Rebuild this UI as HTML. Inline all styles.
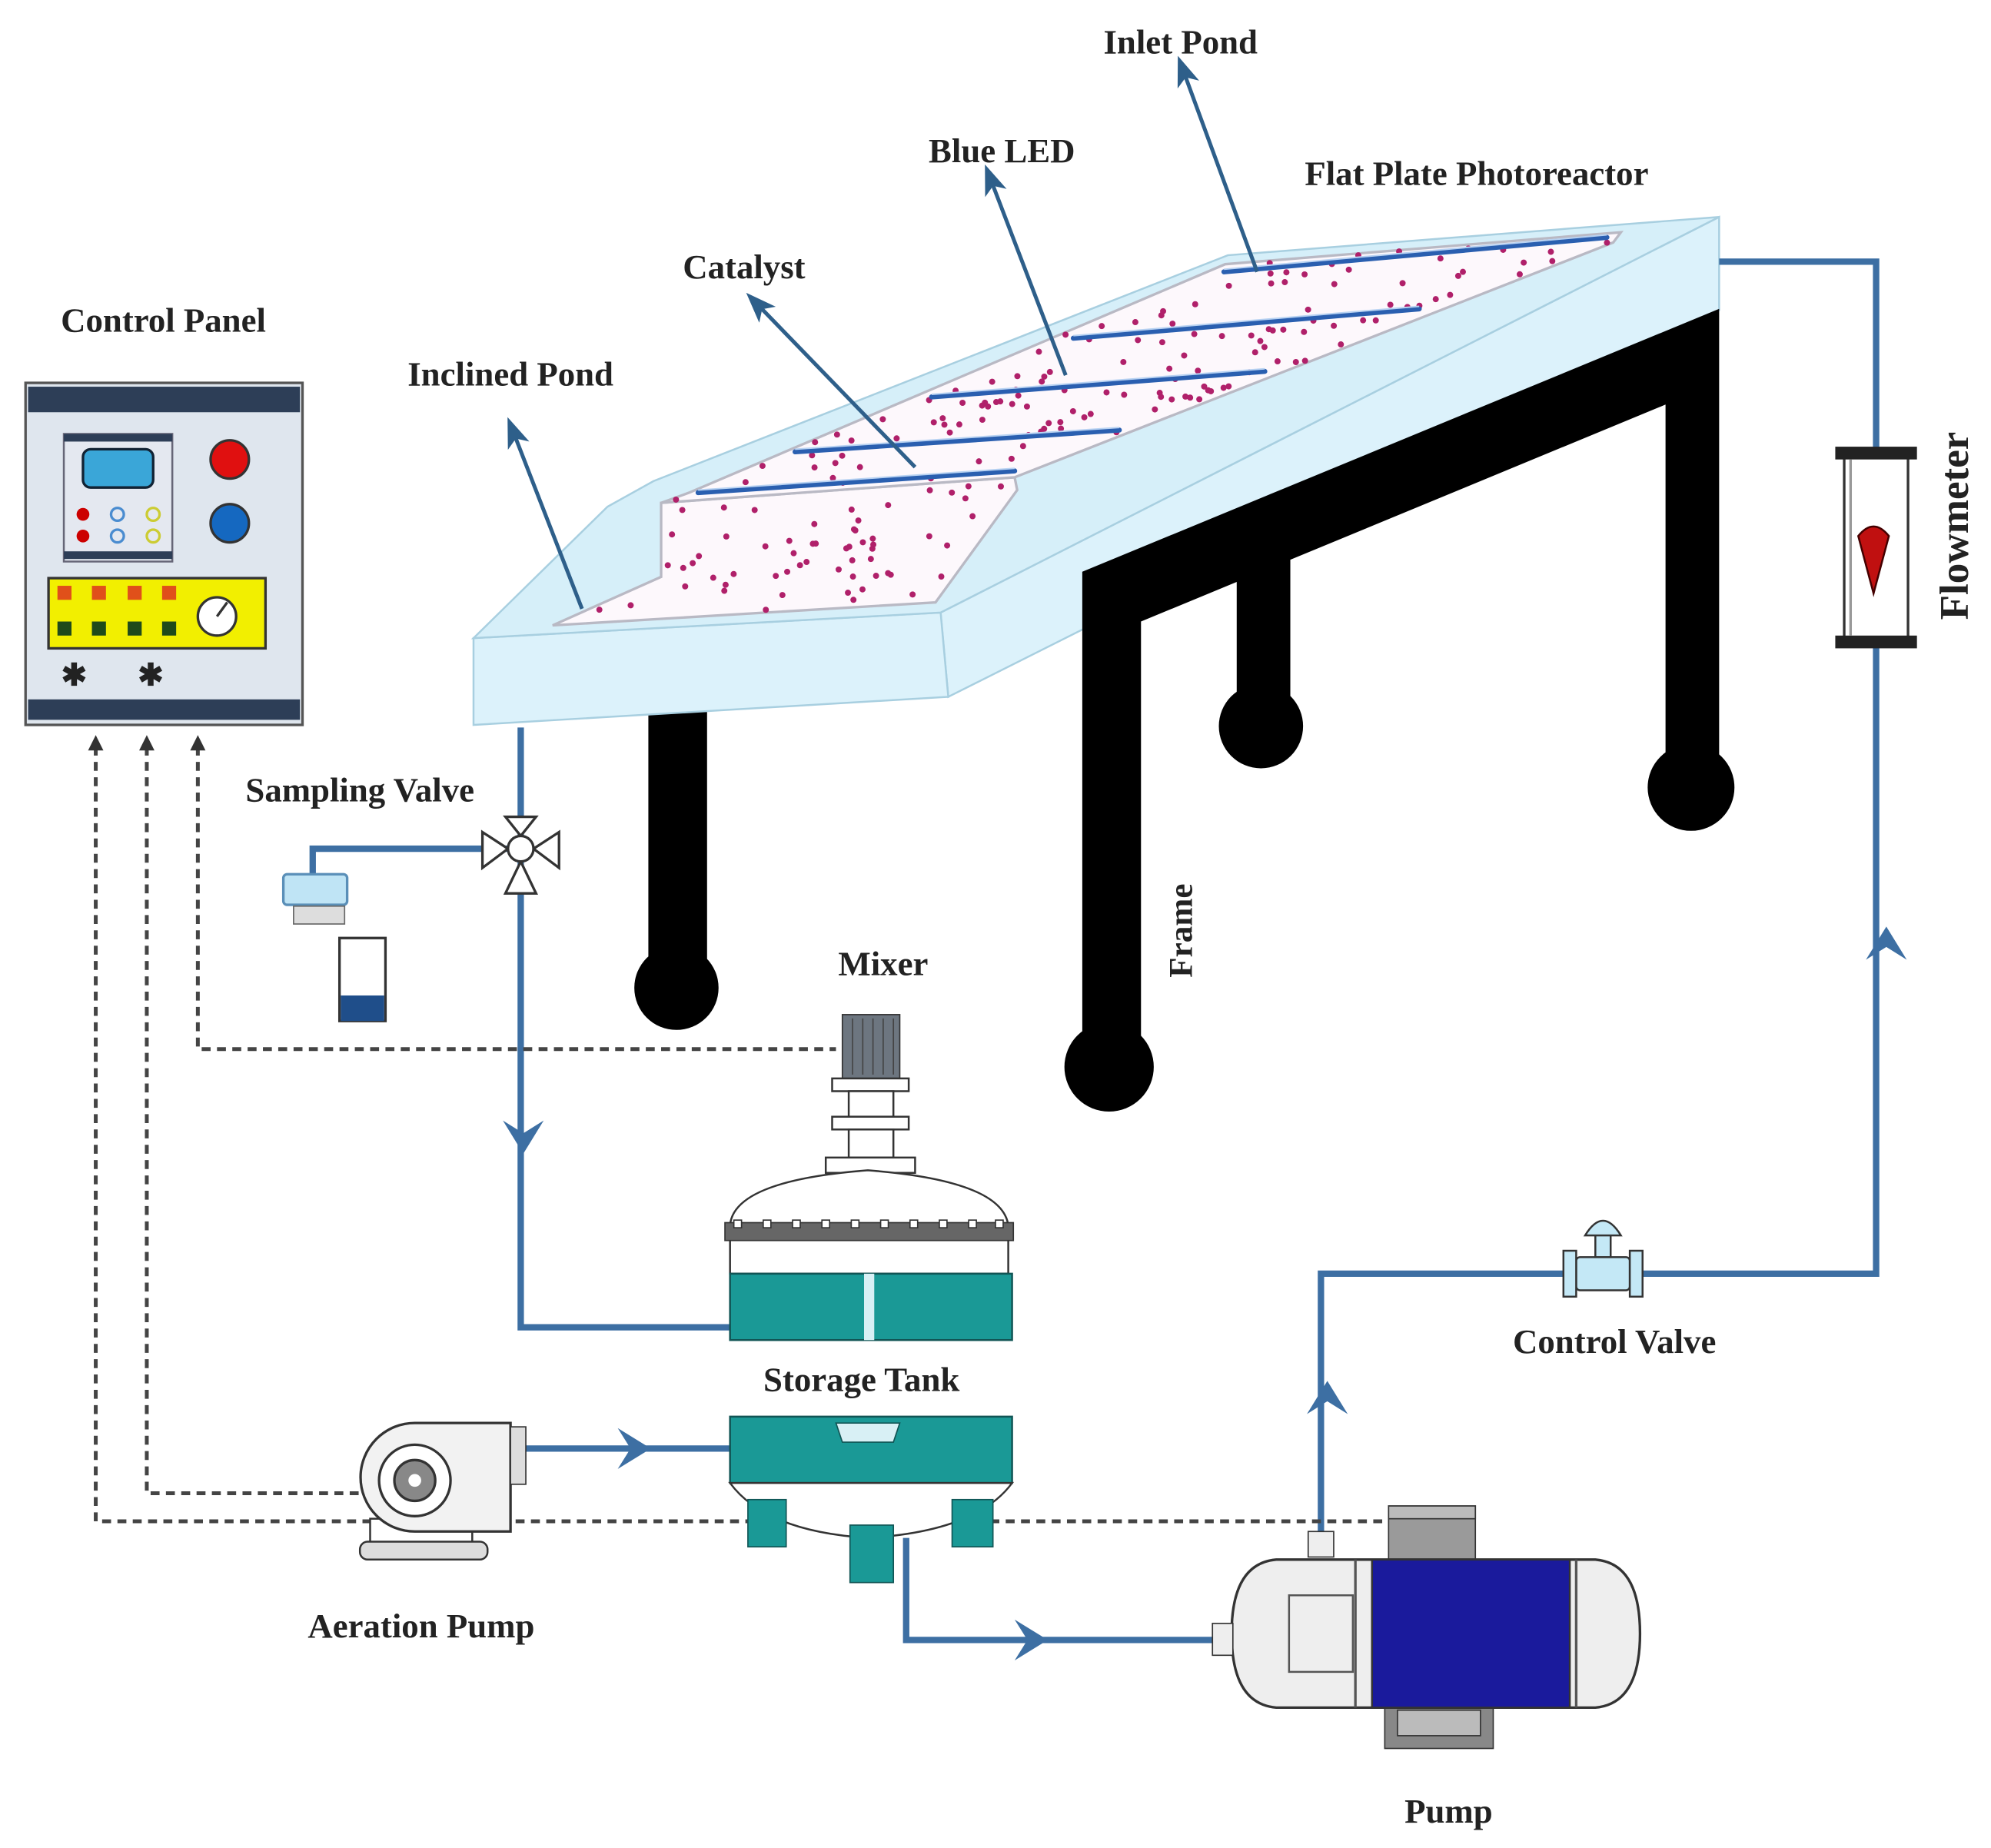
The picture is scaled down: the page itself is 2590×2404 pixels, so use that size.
<!DOCTYPE html>
<html><head><meta charset="utf-8"><style>
html,body{margin:0;padding:0;background:#fff}
svg{display:block}
text{font-family:"Liberation Serif",serif;font-weight:bold;fill:#222}
</style></head><body>
<svg id="s" width="2590" height="2404" viewBox="0 0 1560 1448" xmlns="http://www.w3.org/2000/svg">
<defs>
<marker id="ah" markerWidth="8" markerHeight="8" refX="4" refY="4" orient="auto"><path d="M0,1 L8,4 L0,7 L2,4 z" fill="#2e5f8a"/></marker>
</defs>
<rect width="1560" height="1448" fill="#fff"/>

<!-- black frame back parts -->
<rect x="969" y="400" width="42" height="150" fill="#000"/>
<circle cx="988" cy="569" r="33" fill="#000"/>
<rect x="508" y="555" width="46" height="200" fill="#000"/>
<circle cx="530" cy="774" r="33" fill="#000"/>

<!-- reactor -->
<polygon points="737,480 1347,170 1347,243 743,546" fill="#dcf2fb" stroke="#a8cfe0" stroke-width="1.5"/>
<polygon points="371,500 737,480 743,546 371,568" fill="#dcf2fb" stroke="#a8cfe0" stroke-width="1.5"/>
<polygon points="371,500 476,397 512,377 962,200 1269,176 1347,170 737,480" fill="#d6eff9" stroke="#a8cfe0" stroke-width="1.5"/>
<polygon id="p1" points="433,490 518,452 518,394 795,374 797,384 733,472" fill="#fdf8fc" stroke="#b9b9c4" stroke-width="2"/>
<polygon id="p2" points="518,394 540,386 960,207 1270,182 1264,190 795,374" fill="#fdf8fc" stroke="#b9b9c4" stroke-width="2"/>
<g id="dots"></g>
<g stroke="#2a5fb0" stroke-width="4" stroke-linecap="round">
<line x1="547" y1="386" x2="795" y2="369"/><line x1="623" y1="354" x2="877" y2="337"/>
<line x1="730" y1="311" x2="991" y2="291"/><line x1="841" y1="265" x2="1112" y2="242"/>
<line x1="959" y1="213" x2="1259" y2="186"/></g>
<g stroke="#b8d2f2" stroke-width="1.2">
<line x1="547" y1="384" x2="795" y2="367"/><line x1="623" y1="352" x2="877" y2="335"/>
<line x1="730" y1="309" x2="991" y2="289"/><line x1="841" y1="263" x2="1112" y2="240"/>
<line x1="959" y1="211" x2="1259" y2="184"/></g>

<!-- black frame front -->
<polygon points="848,448 1347,242 1347,595 1305,595 1305,317 894,487 894,815 848,815" fill="#000"/>
<circle cx="1325" cy="617" r="34" fill="#000"/>
<circle cx="869" cy="836" r="35" fill="#000"/>
<text font-size="26" transform="translate(934,766) rotate(-90)">Frame</text>

<!-- label arrows -->
<g stroke="#2e5f8a" stroke-width="3" marker-end="url(#ah)">
<line x1="985" y1="213" x2="927" y2="55"/>
<line x1="835" y1="294" x2="776" y2="140"/>
<line x1="717" y1="366" x2="593" y2="238"/>
<line x1="456" y1="477" x2="402" y2="338"/>
</g>
<text x="925" y="42" font-size="27" text-anchor="middle">Inlet Pond</text>
<text x="785" y="127" font-size="27" text-anchor="middle">Blue LED</text>
<text x="1157" y="145" font-size="27" text-anchor="middle">Flat Plate Photoreactor</text>
<text x="583" y="218" font-size="27" text-anchor="middle">Catalyst</text>
<text x="400" y="302" font-size="27" text-anchor="middle">Inclined Pond</text>
<text x="128" y="260" font-size="27" text-anchor="middle">Control Panel</text>
<text x="282" y="628" font-size="27" text-anchor="middle">Sampling Valve</text>
<text x="692" y="764" font-size="27" text-anchor="middle">Mixer</text>
<text x="675" y="1090" font-size="27" text-anchor="middle">Storage Tank</text>
<text x="1265" y="1060" font-size="27" text-anchor="middle">Control Valve</text>
<text x="330" y="1283" font-size="27" text-anchor="middle">Aeration Pump</text>
<text x="1135" y="1428" font-size="27" text-anchor="middle">Pump</text>
<text font-size="32" text-anchor="middle" transform="translate(1542,412) rotate(-90)">Flowmeter</text>

<!-- pipes -->
<g fill="none" stroke="#3d6fa3" stroke-width="5">
<polyline points="1347,205 1470,205 1470,352"/>
<polyline points="1470,505 1470,998 1035,998 1035,1205"/>
<polyline points="408,570 408,1040 572,1040"/>
<polyline points="400,665 245,665 245,690"/>
<polyline points="410,1135 572,1135"/>
<polyline points="710,1205 710,1285 955,1285"/>
</g>
<g fill="#3d6fa3">
<path d="M1462,752 L1478,726 L1494,752 L1478,742 z"/>
<path d="M1024,1108 L1040,1082 L1056,1108 L1040,1098 z"/>
<path d="M394,878 L410,904 L426,878 L410,888 z"/>
<path d="M484,1119 L510,1135 L484,1151 L494,1135 z"/>
<path d="M795,1269 L821,1285 L795,1301 L805,1285 z"/>
</g>

<!-- dashed control lines -->
<g fill="none" stroke="#444" stroke-width="3" stroke-dasharray="7,5">
<polyline points="75,585 75,1192 1115,1192"/>
<polyline points="115,585 115,1170 290,1170"/>
<polyline points="155,585 155,822 655,822"/>
</g>
<g fill="#333">
<path d="M69,588 L75,576 L81,588z"/><path d="M109,588 L115,576 L121,588z"/><path d="M149,588 L155,576 L161,588z"/>
</g>

<!-- control panel -->
<rect x="20" y="300" width="217" height="268" fill="#dfe6ee" stroke="#555" stroke-width="2"/>
<rect x="22" y="303" width="213" height="20" fill="#2d3e57"/>
<rect x="22" y="548" width="213" height="16" fill="#2d3e57"/>
<rect x="50" y="340" width="85" height="100" fill="#e4e8f0" stroke="#667" stroke-width="1.5"/>
<rect x="50" y="340" width="85" height="6" fill="#2d3e57"/><rect x="50" y="432" width="85" height="6" fill="#2d3e57"/>
<rect x="65" y="352" width="55" height="30" rx="6" fill="#3aa6d8" stroke="#123" stroke-width="2"/>
<circle cx="65" cy="403" r="5" fill="#c00"/><circle cx="65" cy="420" r="5" fill="#c00"/>
<circle cx="92" cy="403" r="5" fill="none" stroke="#4a8cd0" stroke-width="2"/><circle cx="92" cy="420" r="5" fill="none" stroke="#4a8cd0" stroke-width="2"/>
<circle cx="120" cy="403" r="5" fill="none" stroke="#cc3" stroke-width="2"/><circle cx="120" cy="420" r="5" fill="none" stroke="#cc3" stroke-width="2"/>
<circle cx="180" cy="360" r="15" fill="#e01010" stroke="#333" stroke-width="2"/>
<circle cx="180" cy="410" r="15" fill="#1568c0" stroke="#333" stroke-width="2"/>
<rect x="38" y="453" width="170" height="55" fill="#f2ef00" stroke="#333" stroke-width="2"/>
<g fill="#e0501a"><rect x="45" y="459" width="11" height="11"/><rect x="72" y="459" width="11" height="11"/><rect x="100" y="459" width="11" height="11"/><rect x="127" y="459" width="11" height="11"/></g>
<g fill="#1f4a1a"><rect x="45" y="487" width="11" height="11"/><rect x="72" y="487" width="11" height="11"/><rect x="100" y="487" width="11" height="11"/><rect x="127" y="487" width="11" height="11"/></g>
<circle cx="170" cy="483" r="15" fill="#fff" stroke="#333" stroke-width="2"/><line x1="170" y1="483" x2="178" y2="472" stroke="#333" stroke-width="2"/>
<text x="58" y="537" font-size="24" text-anchor="middle" fill="#000">✱</text>
<text x="118" y="537" font-size="24" text-anchor="middle" fill="#000">✱</text>

<!-- flowmeter -->
<rect x="1445" y="355" width="50" height="148" fill="#fff" stroke="#333" stroke-width="2"/>
<rect x="1438" y="350" width="64" height="10" fill="#222"/><rect x="1438" y="498" width="64" height="10" fill="#222"/>
<line x1="1450" y1="360" x2="1450" y2="498" stroke="#999" stroke-width="2"/>
<path d="M1456,420 Q1468,405 1480,420 L1468,465 z" fill="#c01010" stroke="#400" stroke-width="1.5"/>

<!-- sampling valve -->
<path d="M378,652 L398,665 L378,680 z M438,652 L418,665 L438,680z" fill="#fff" stroke="#333" stroke-width="2"/>
<path d="M396,640 L420,640 L408,655 z M396,700 L420,700 L408,675 z" fill="#fff" stroke="#333" stroke-width="2"/>
<circle cx="408" cy="665" r="10" fill="#fff" stroke="#333" stroke-width="2"/>
<rect x="222" y="685" width="50" height="24" rx="3" fill="#bfe4f5" stroke="#5a8fb8" stroke-width="2"/>
<rect x="230" y="710" width="40" height="14" fill="#ddd" stroke="#666"/>
<rect x="266" y="735" width="36" height="65" fill="#fff" stroke="#333" stroke-width="2"/>
<rect x="267" y="780" width="34" height="20" fill="#1f4e8a"/>

<!-- storage tank -->
<rect x="660" y="795" width="45" height="50" fill="#6d7680" stroke="#333"/>
<g stroke="#444" stroke-width="1"><line x1="668" y1="798" x2="668" y2="842"/><line x1="676" y1="798" x2="676" y2="842"/><line x1="684" y1="798" x2="684" y2="842"/><line x1="692" y1="798" x2="692" y2="842"/><line x1="700" y1="798" x2="700" y2="842"/></g>
<rect x="652" y="845" width="60" height="10" fill="#fff" stroke="#333" stroke-width="1.5"/>
<rect x="665" y="855" width="35" height="20" fill="#fff" stroke="#333" stroke-width="1.5"/>
<rect x="652" y="875" width="60" height="10" fill="#fff" stroke="#333" stroke-width="1.5"/>
<rect x="665" y="885" width="35" height="22" fill="#fff" stroke="#333" stroke-width="1.5"/>
<rect x="647" y="907" width="70" height="12" fill="#fff" stroke="#333" stroke-width="1.5"/>
<path d="M572,998 L572,960 Q575,925 680,917 Q785,925 790,960 L790,998 z" fill="#fff" stroke="#333" stroke-width="1.5"/>
<rect x="568" y="958" width="226" height="14" fill="#666" stroke="#333"/>
<g fill="#fff" stroke="#333"><rect x="575" y="956" width="6" height="6"/><rect x="598" y="956" width="6" height="6"/><rect x="621" y="956" width="6" height="6"/><rect x="644" y="956" width="6" height="6"/><rect x="667" y="956" width="6" height="6"/><rect x="690" y="956" width="6" height="6"/><rect x="713" y="956" width="6" height="6"/><rect x="736" y="956" width="6" height="6"/><rect x="759" y="956" width="6" height="6"/><rect x="780" y="956" width="6" height="6"/></g>
<rect x="572" y="998" width="221" height="52" fill="#1a9996" stroke="#155" stroke-width="1.5"/>
<rect x="677" y="998" width="8" height="52" fill="#d8f0f5"/>
<rect x="572" y="1110" width="221" height="52" fill="#1a9996" stroke="#155" stroke-width="1.5"/>
<path d="M655,1115 L705,1115 L700,1130 L660,1130 z" fill="#d8f0f5" stroke="#155"/>
<path d="M572,1162 Q600,1200 680,1205 Q765,1200 793,1162 z" fill="#fff" stroke="#333" stroke-width="1.5"/>
<rect x="586" y="1175" width="30" height="37" fill="#1a9996" stroke="#155"/>
<rect x="746" y="1175" width="32" height="37" fill="#1a9996" stroke="#155"/>
<rect x="666" y="1195" width="34" height="45" fill="#1a9996" stroke="#155"/>

<!-- aeration pump -->
<rect x="290" y="1190" width="80" height="20" fill="#fff" stroke="#333" stroke-width="1.5"/>
<rect x="282" y="1208" width="100" height="14" rx="6" fill="#ddd" stroke="#333" stroke-width="1.5"/>
<path d="M325,1115 L400,1115 L400,1200 L325,1200 A42,42 0 0 1 325,1115z" fill="#f2f2f2" stroke="#333" stroke-width="2"/>
<rect x="400" y="1118" width="12" height="45" fill="#ddd" stroke="#333"/>
<circle cx="325" cy="1160" r="28" fill="#fff" stroke="#333" stroke-width="2"/>
<circle cx="325" cy="1160" r="16" fill="#888" stroke="#333" stroke-width="2"/>
<circle cx="325" cy="1160" r="5" fill="#fff"/>

<!-- control valve -->
<rect x="1235" y="985" width="42" height="26" rx="3" fill="#c4e8f6" stroke="#333" stroke-width="1.5"/>
<rect x="1225" y="980" width="10" height="36" fill="#c4e8f6" stroke="#333" stroke-width="1.5"/>
<rect x="1277" y="980" width="10" height="36" fill="#c4e8f6" stroke="#333" stroke-width="1.5"/>
<rect x="1250" y="965" width="12" height="20" fill="#c4e8f6" stroke="#333" stroke-width="1.5"/>
<path d="M1242,968 Q1256,945 1270,968 z" fill="#c4e8f6" stroke="#333" stroke-width="1.5"/>

<!-- pump -->
<rect x="1088" y="1180" width="68" height="45" fill="#9a9a9a" stroke="#333"/>
<rect x="1088" y="1180" width="68" height="10" fill="#bbb" stroke="#333"/>
<rect x="1025" y="1200" width="20" height="20" fill="#eee" stroke="#333"/>
<rect x="1085" y="1330" width="85" height="40" fill="#888" stroke="#333"/>
<rect x="1095" y="1340" width="65" height="20" fill="#bbb" stroke="#333"/>
<path d="M1000,1222 L1250,1222 Q1285,1225 1285,1280 Q1285,1335 1250,1338 L1000,1338 Q965,1335 965,1280 Q965,1225 1000,1222z" fill="#eee" stroke="#333" stroke-width="2"/>
<rect x="1075" y="1222" width="155" height="116" fill="#1a1a9c" stroke="#333" stroke-width="1.5"/>
<line x1="1062" y1="1222" x2="1062" y2="1338" stroke="#555" stroke-width="2"/>
<line x1="1235" y1="1222" x2="1235" y2="1338" stroke="#555" stroke-width="2"/>
<rect x="1010" y="1250" width="50" height="60" fill="none" stroke="#555" stroke-width="1.5"/>
<rect x="950" y="1272" width="16" height="25" fill="#eee" stroke="#333"/>
</svg>
<script>
(function(){
var polys=[[[433,490],[518,452],[518,394],[795,374],[797,384],[733,472]],[[518,394],[540,386],[960,207],[1270,182],[1264,190],[795,374]]];
function inside(pts,x,y){var c=false;for(var i=0,j=pts.length-1;i<pts.length;j=i++){var xi=pts[i][0],yi=pts[i][1],xj=pts[j][0],yj=pts[j][1];if(((yi>y)!=(yj>y))&&(x<(xj-xi)*(y-yi)/(yj-yi)+xi))c=!c;}return c;}
var s=12345;function r(){s=(s*1103515245+12345)%2147483648;return s/2147483648;}
var g=document.getElementById('dots'),ns='http://www.w3.org/2000/svg',n=0,t=0;
while(n<190&&t<8000){t++;var x=420+r()*860,y=180+r()*315;if(inside(polys[0],x+4,y)&&inside(polys[0],x-4,y)||inside(polys[1],x+4,y)&&inside(polys[1],x-4,y)){var c=document.createElementNS(ns,'circle');c.setAttribute('cx',x);c.setAttribute('cy',y);c.setAttribute('r',2.4);c.setAttribute('fill','#b0206a');g.appendChild(c);n++;}}
})();
</script>
</body></html>
